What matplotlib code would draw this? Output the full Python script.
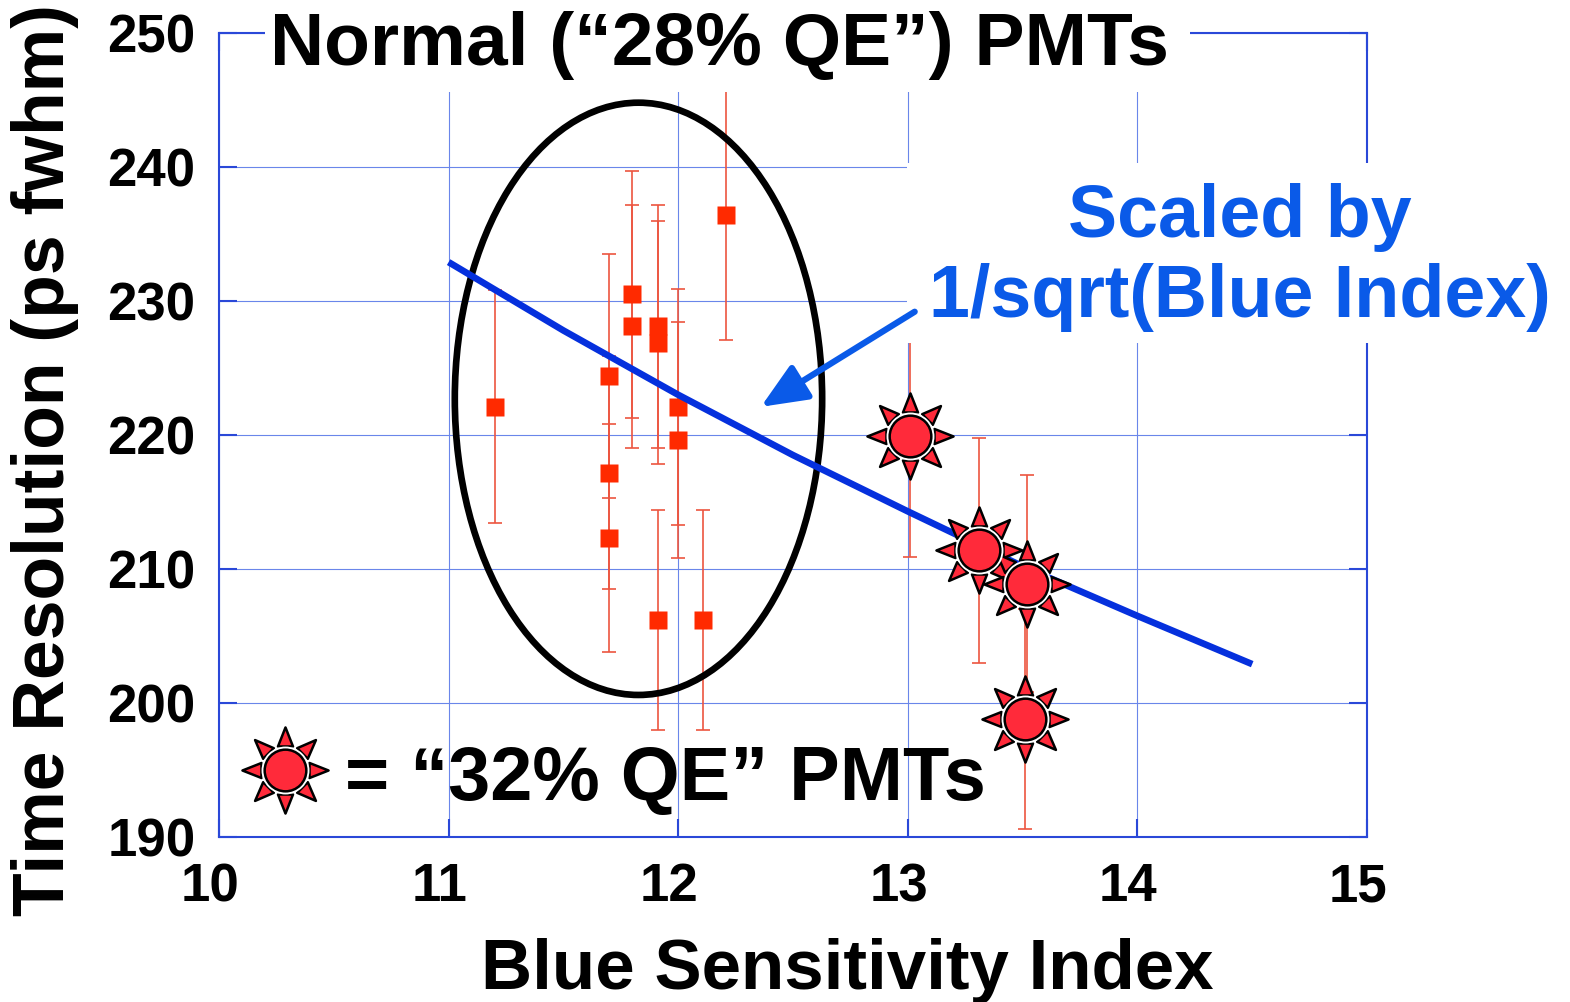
import numpy as np
import matplotlib
matplotlib.use('Agg')
import matplotlib.pyplot as plt
from matplotlib.path import Path
from matplotlib.patches import Ellipse, Rectangle
from matplotlib.transforms import ScaledTranslation

# Normal ("28% QE") PMTs
normal_x = [11.20, 11.70, 11.70, 11.70, 11.80, 11.80, 11.91, 11.91, 11.91, 12.00, 12.00, 12.11, 12.21]
normal_y = [222.1, 224.4, 217.2, 212.3, 230.5, 228.1, 228.1, 226.9, 206.2, 222.1, 219.6, 206.2, 236.4]
normal_err = [8.7, 9.1, 8.7, 8.5, 9.2, 9.1, 9.1, 9.1, 8.2, 8.8, 8.8, 8.2, 9.3]

# "32% QE" PMTs
qe32_x = [13.01, 13.31, 13.52, 13.51]
qe32_y = [219.9, 211.4, 208.9, 198.8]
qe32_err = [9.0, 8.4, 8.1, 8.2]

# 1/sqrt(blue index) scaling curve
fit_x = [11.0, 11.5, 12.0, 12.5, 13.0, 13.5, 14.0, 14.5]
fit_y = [232.9, 227.8, 223.0, 218.5, 214.3, 210.2, 206.5, 202.9]

x_ticks = [10, 11, 12, 13, 14, 15]
y_ticks = [190, 200, 210, 220, 230, 240, 250]

# annotation geometry
ellipse_center = (11.827, 222.7)
ellipse_size = (1.60, 44.2)
arrow_tail = (13.03, 229.2)
arrow_head = (12.36, 222.1)

FONT = 'Liberation Sans'
SPINE = '#2a48d8'
GRID = '#6a86ea'
TXT_BLUE = '#0a5ae8'
LINE_BLUE = '#0530dd'
SQ_RED = '#ff2a00'
SUN_RED = '#ff2a3a'
ERR_RED = '#ec5540'


def sun_rays():
    verts, codes = [], []
    for k in range(8):
        a = np.pi / 2 + k * np.pi / 4
        c, s = np.cos(a), np.sin(a)
        px, py = -s, c
        tip = (43 * c, 43 * s)
        b1 = (24 * c + 7.5 * px, 24 * s + 7.5 * py)
        b2 = (24 * c - 7.5 * px, 24 * s - 7.5 * py)
        verts += [b1, tip, b2, b1]
        codes += [Path.MOVETO, Path.LINETO, Path.LINETO, Path.CLOSEPOLY]
    return Path(verts, codes)


RAYS = sun_rays()


def draw_sun(ax, x, y, **kw):
    ax.plot(x, y, ls='none', marker=RAYS, ms=62, mfc=SUN_RED, mec='black', mew=1.8, zorder=6, **kw)
    ax.plot(x, y, ls='none', marker='o', ms=34.5, mfc='white', mec='none', zorder=6.1, **kw)
    ax.plot(x, y, ls='none', marker='o', ms=30, mfc=SUN_RED, mec='black', mew=1.8, zorder=6.2, **kw)


fig = plt.figure(figsize=(15.7, 10.02), dpi=100)
ax = fig.add_axes([219 / 1570, 165 / 1002, 1148 / 1570, 804 / 1002])

ax.set_xlim(10, 15)
ax.set_ylim(190, 250)
ax.set_xticks(x_ticks)
ax.set_yticks(y_ticks)
ax.set_axisbelow(True)
ax.grid(True, color=GRID, lw=0.8)
for sp in ax.spines.values():
    sp.set_color(SPINE)
    sp.set_linewidth(1.5)
ax.tick_params(direction='in', length=13, width=1.5, color=SPINE,
               top=True, right=True, labelsize=38)
ax.tick_params(axis='y', pad=17)
ax.tick_params(axis='x', pad=18)
for lab in ax.get_xticklabels() + ax.get_yticklabels():
    lab.set_fontfamily(FONT)
    lab.set_fontweight('bold')
for lab in ax.get_xticklabels():
    lab.set_transform(lab.get_transform() + ScaledTranslation(-0.09, 0, fig.dpi_scale_trans))

# error bars + points
ax.errorbar(normal_x, normal_y, yerr=normal_err, fmt='none', ecolor=ERR_RED,
            elinewidth=1.2, capsize=4.7, capthick=1.2, zorder=2)
ax.errorbar(qe32_x, qe32_y, yerr=qe32_err, fmt='none', ecolor=ERR_RED,
            elinewidth=1.2, capsize=4.7, capthick=1.2, zorder=2)
ax.plot(normal_x, normal_y, ls='none', marker='s', ms=13.3, mfc=SQ_RED, mec='none', zorder=4)

ax.plot(fit_x, fit_y, color=LINE_BLUE, lw=4.8, zorder=5, solid_capstyle='butt')

ax.add_patch(Ellipse(ellipse_center, ellipse_size[0], ellipse_size[1],
                     fill=False, ec='black', lw=4.8, zorder=4.5))

draw_sun(ax, qe32_x, qe32_y)

# white boxes behind text (they hide grid and frame in the reference)
ax.add_patch(Rectangle((0.0401, 0.9266), 0.8057, 0.12, transform=ax.transAxes,
                       fc='white', ec='none', clip_on=False, zorder=3))
ax.add_patch(Rectangle((0.599, 0.6144), 0.58, 0.2239, transform=ax.transAxes,
                       fc='white', ec='none', clip_on=False, zorder=3))

ax.text(0.4364, 0.9602, 'Normal (\u201c28% QE\u201d) PMTs', transform=ax.transAxes,
        ha='center', va='baseline', fontsize=54, fontweight='bold', family=FONT, zorder=7)

ax.text(0.8894, 0.7463, 'Scaled by', transform=ax.transAxes, ha='center', va='baseline',
        fontsize=53, fontweight='bold', family=FONT, color=TXT_BLUE, zorder=7)
ax.text(0.8894, 0.6468, '1/sqrt(Blue Index)', transform=ax.transAxes, ha='center', va='baseline',
        fontsize=53, fontweight='bold', family=FONT, color=TXT_BLUE, zorder=7)

ax.annotate('', xy=arrow_head, xytext=arrow_tail,
            arrowprops=dict(arrowstyle='-|>,head_length=0.7,head_width=0.3',
                            mutation_scale=40, color=TXT_BLUE, lw=4.5,
                            shrinkA=0, shrinkB=0), zorder=8)

# legend-like key
draw_sun(ax, [0.0575], [0.0833], transform=ax.transAxes, clip_on=False)
ax.text(0.1098, 0.046, '= \u201c32% QE\u201d PMTs', transform=ax.transAxes, ha='left', va='baseline',
        fontsize=54.5, fontweight='bold', family=FONT, zorder=7)

fig.text(45 / 1570, 1 - 460 / 1002, 'Time Resolution (ps fwhm)', rotation=90,
         ha='center', va='center', fontsize=51.5, fontweight='bold', family=FONT)
fig.text(847 / 1570, 1 - 989 / 1002, 'Blue Sensitivity Index',
         ha='center', va='baseline', fontsize=51, fontweight='bold', family=FONT)

fig.savefig('out.png', dpi=100, facecolor='white')
